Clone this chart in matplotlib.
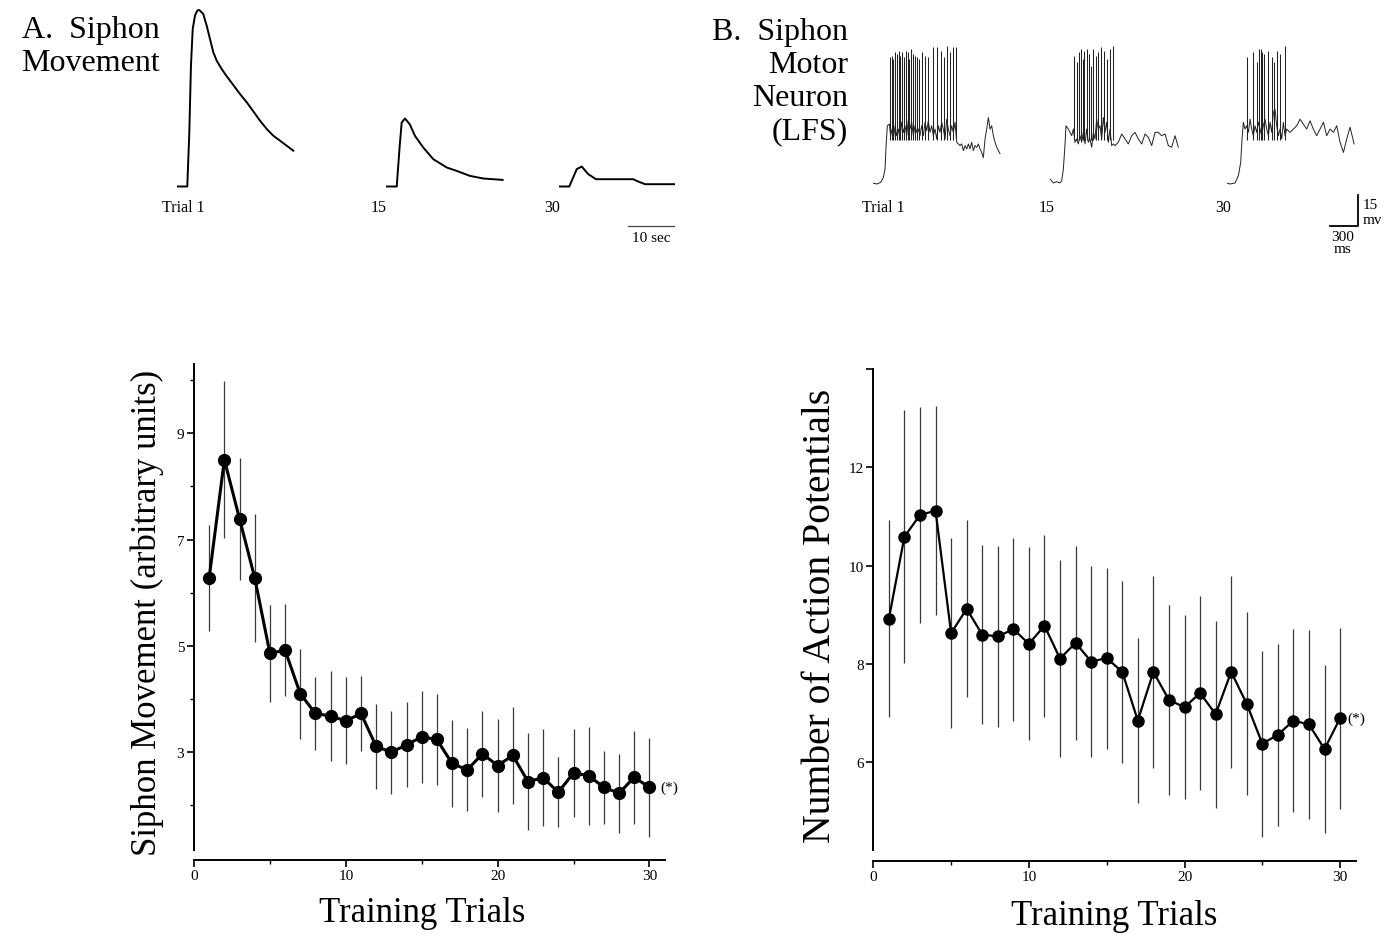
import numpy as np
import matplotlib.pyplot as plt

plt.rcParams['font.family'] = ['Liberation Serif', 'DejaVu Serif']

W, H = 1392, 937

# Habituation over 30 training trials (mean +/- SEM)
trials = np.arange(1, 31)
siphon_mean = [6.28, 8.50, 7.39, 6.28, 4.86, 4.92, 4.10, 3.73, 3.68, 3.59,
               3.73, 3.11, 3.00, 3.14, 3.29, 3.24, 2.79, 2.67, 2.97, 2.75,
               2.94, 2.45, 2.52, 2.25, 2.61, 2.56, 2.34, 2.23, 2.53, 2.34]
siphon_sem = [1.00, 1.48, 1.15, 1.20, 0.91, 0.86, 0.85, 0.69, 0.84, 0.82,
              0.70, 0.80, 0.78, 0.80, 0.86, 0.86, 0.82, 0.78, 0.81, 0.88,
              0.91, 0.92, 0.91, 0.66, 0.83, 0.92, 0.69, 0.74, 0.87, 0.93]
ap_mean = [8.92, 10.59, 11.03, 11.12, 8.63, 9.12, 8.60, 8.56, 8.71, 8.41,
           8.78, 8.11, 8.43, 8.05, 8.12, 7.84, 6.85, 7.84, 7.27, 7.12,
           7.41, 6.98, 7.84, 7.19, 6.38, 6.56, 6.85, 6.77, 6.27, 6.90]
ap_sem = [2.00, 2.57, 2.20, 2.12, 1.93, 1.80, 1.83, 1.84, 1.86, 1.96,
          1.85, 2.00, 1.98, 1.95, 1.84, 1.85, 1.67, 1.95, 1.94, 1.87,
          1.98, 1.90, 1.95, 1.86, 1.89, 1.85, 1.86, 1.92, 1.70, 1.84]

# Example siphon movement records (time in s, amplitude in arbitrary units)
sm1_t = [0, 2.3, 2.74, 3.1, 3.48, 3.98, 4.48, 4.91, 5.78, 6.52, 7.24, 7.96, 8.70, 9.78, 10.87,
         12.30, 13.76, 15.22, 16.65, 18.11, 19.57, 21.0, 22.46, 23.91, 25.35]
sm1_a = [0, 0, 5.4, 12.1, 15.75, 17.1, 17.6, 17.65, 17.25, 16.08, 14.75, 13.42, 12.58, 11.75, 11.02,
         10.15, 9.25, 8.42, 7.52, 6.58, 5.75, 5.08, 4.58, 4.08, 3.58]
sm15_t = [0, 2.33, 3.0, 3.41, 4.13, 5.2, 6.3, 8.1, 10.28, 13.2, 15.37, 18.26, 21.15, 25.35]
sm15_a = [0, 0, 4.2, 6.4, 6.8, 6.2, 5.06, 3.9, 2.73, 1.9, 1.56, 1.06, 0.8, 0.66]
sm30_t = [0, 2.24, 3.85, 4.93, 6.37, 8.04, 16.15, 16.9, 18.7, 25.0]
sm30_a = [0, 0, 1.73, 2.0, 1.23, 0.73, 0.73, 0.56, 0.23, 0.23]

# Motor neuron membrane potential (ms, mV above rest) and spikes
mn1_t = [0, 43, 86, 114, 132, 143, 157, 178, 192, 207, 221, 239, 257, 274, 292, 310, 328, 346, 364, 382,
         399, 417, 435, 453, 471, 489, 506, 524, 542, 560, 578, 595, 613, 631, 649, 667, 685, 702, 720, 738,
         756, 774, 792, 809, 827, 845, 863, 881, 899, 917, 934, 952, 970, 988, 1006, 1024, 1041, 1059, 1077, 1095,
         1113, 1131, 1148, 1166, 1184, 1202, 1220, 1238, 1255, 1273, 1291, 1309, 1327, 1362]
mn1_v = [0, -0.5, 0.3, 2.7, 6.8, 18.1, 27.7, 28.5, 22.9, 26.1, 21.3, 27.7, 22.9, 26.1, 21.3, 29.4, 24.5, 27.7, 22.9, 30.9,
         26.1, 29.4, 22.9, 27.7, 24.5, 26.1, 22.9, 27.7, 22.9, 29.4, 25.3, 30.1, 24.5, 27.7, 22.9, 26.1, 21.3, 27.7, 24.5, 29.4,
         26.1, 21.3, 30.9, 26.1, 22.9, 27.7, 24.5, 29.4, 19.7, 18.9, 18.1, 18.9, 15.7, 18.1, 16.5, 18.9, 16.5, 19.7, 15.7, 18.1,
         17.3, 18.9, 16.5, 14.8, 12.3, 21.3, 26.1, 31.7, 26.1, 27.7, 22.9, 19.7, 17.3, 14.2]
sp1_t = [185, 203, 221, 239, 257, 278, 296, 313, 335, 356, 374, 392, 410, 428, 449, 471, 499, 528, 563, 595,
         649, 692, 727, 763, 792, 827, 863, 891]
sp1_v = [60.8, 61.6, 60.0, 63.2, 62.4, 64.1, 61.6, 63.2, 60.8, 64.1, 63.2, 60.0, 64.9, 62.4, 61.6, 60.8, 60.0, 63.2, 61.6, 60.8,
         65.7, 65.7, 64.1, 60.8, 66.5, 63.2, 65.7, 65.7]

mn15_t = [0, 36, 71, 107, 125, 143, 160, 171, 196, 214, 232, 250, 268, 285, 303, 321, 339, 357, 375, 392,
          410, 428, 446, 464, 482, 499, 517, 535, 553, 571, 589, 606, 624, 642, 660, 678, 696, 731, 767, 803,
          838, 874, 910, 945, 981, 1017, 1052, 1088, 1124, 1159, 1195, 1231, 1266, 1302, 1338, 1373]
mn15_v = [1.9, 0, 0.6, 0, 1.1, 6.8, 18.1, 27.7, 26.1, 24.5, 22.9, 26.1, 19.7, 21.3, 18.9, 22.9, 19.7, 24.5, 18.9, 26.1,
          19.7, 21.3, 17.3, 24.5, 21.3, 30.9, 26.1, 27.7, 21.3, 31.7, 24.5, 29.4, 19.7, 26.1, 18.1, 18.9, 18.1, 19.7, 23.7, 21.3,
          18.9, 22.9, 24.5, 21.3, 18.9, 23.7, 22.1, 18.1, 24.5, 24.5, 22.9, 23.7, 18.1, 17.3, 22.9, 17.3]
sp15_t = [260, 285, 310, 332, 350, 367, 392, 414, 439, 464, 489, 517, 546, 578, 606, 642, 678]
sp15_v = [61.6, 58.4, 63.2, 64.9, 60.0, 64.1, 64.9, 62.4, 56.8, 64.9, 61.6, 63.2, 65.7, 64.1, 60.0, 64.9, 66.5]

mn30_t = [0, 36, 89, 125, 150, 164, 178, 196, 214, 232, 250, 267, 285, 303, 321, 339, 357, 374, 392, 410,
          428, 446, 464, 482, 499, 517, 535, 553, 571, 589, 606, 624, 642, 678, 713, 749, 785, 820, 856, 892,
          927, 963, 999, 1035, 1070, 1106, 1142, 1177, 1213, 1249, 1284, 1320, 1363]
mn30_v = [0, -0.5, 0, 3.5, 10.0, 21.3, 29.4, 26.1, 27.7, 24.5, 30.9, 26.1, 22.9, 27.7, 24.5, 29.4, 26.1, 22.9, 27.7, 30.9,
          26.1, 22.9, 29.4, 24.5, 34.1, 35.7, 27.7, 22.9, 26.1, 21.3, 29.4, 22.9, 26.1, 24.5, 26.1, 27.7, 30.9, 28.5, 26.1, 30.1,
          26.1, 22.9, 26.1, 29.4, 22.9, 26.1, 24.5, 27.7, 19.7, 14.8, 21.3, 27.0, 18.9]
sp30_t = [221, 278, 321, 350, 364, 382, 403, 446, 482, 510, 535, 571, 624]
sp30_v = [60.8, 63.2, 58.4, 64.9, 64.9, 63.2, 62.4, 64.1, 60.8, 58.4, 64.1, 62.4, 66.5]

trace_labels = ['Trial 1', '15', '30']


def px_axes(fig, x0, y0, x1, y1):
    """add axes from a pixel box (top-left origin)"""
    return fig.add_axes([x0 / W, 1 - y1 / H, (x1 - x0) / W, (y1 - y0) / H])


def style_axes(ax, ylo):
    for s in ['top', 'right']:
        ax.spines[s].set_visible(False)
    ax.spines['left'].set_linewidth(1.4)
    ax.spines['bottom'].set_linewidth(1.4)
    ax.spines['left'].set_bounds(ylo, ax.get_ylim()[1])
    ax.set_xticks([0, 10, 20, 30])
    ax.set_xticks([5, 15, 25], minor=True)
    ax.tick_params(which='major', length=5, width=1.2, labelsize=11, pad=2)
    ax.tick_params(which='minor', length=3, width=1.0)


def draw_means(ax, mean, sem, lw, ms):
    ax.errorbar(trials, mean, yerr=sem, fmt='none', ecolor='#3a3a3a', elinewidth=0.9, zorder=1)
    ax.plot(trials, mean, '-o', color='k', lw=lw, ms=ms, zorder=3)


fig = plt.figure(figsize=(W / 100, H / 100), dpi=100)

# ---- A. Siphon movement ----------------------------------------------------
for txt, yb in [('A.  Siphon', 38), ('Movement', 71)]:
    fig.text(160 / W, 1 - yb / H, txt, ha='right', va='baseline', fontsize=23)

sm_traces = [(sm1_t, sm1_a), (sm15_t, sm15_a), (sm30_t, sm30_a)]
sm_axes = []
for x0, (t, a), lab in zip([176.7, 386, 559], sm_traces, trace_labels):
    ax = px_axes(fig, x0, 2.5, x0 + 26 * 4.6, 197.5)
    ax.set_xlim(0, 26)
    ax.set_ylim(-1, 18.5)
    ax.plot(t, a, color='k', lw=1.4, solid_joinstyle='round')
    ax.axis('off')
    fig.text((x0 - 15) / W, 1 - 208 / H, lab, ha='left', va='center', fontsize=11.5)
    sm_axes.append(ax)

# 10 s scale bar
ax = sm_axes[2]
ax.plot([15, 25], [-3.92, -3.92], color='#444', lw=0.9, clip_on=False)
ax.text(20, -5.1, '10 sec', ha='center', va='center', fontsize=11)

# ---- B. Siphon motor neuron --------------------------------------------------
for txt, yb in [('B.  Siphon', 40), ('Motor', 73), ('Neuron', 106), ('(LFS)', 139)]:
    fig.text(848 / W, 1 - yb / H, txt, ha='right', va='baseline', fontsize=23)

mn_traces = [(mn1_t, mn1_v, sp1_t, sp1_v),
             (mn15_t, mn15_v, sp15_t, sp15_v),
             (mn30_t, mn30_v, sp30_t, sp30_v)]
mn_axes = []
for x0, (t, v, st, sv), lab in zip([872.7, 1050, 1226.7], mn_traces, trace_labels):
    ax = px_axes(fig, x0, 39.4, x0 + 1420 / 10.7, 194.3)
    ax.set_xlim(0, 1420)
    ax.set_ylim(-5, 70)
    ax.plot(t, v, color='#222', lw=0.7)
    ax.vlines(st, 21, sv, color='#222', lw=0.75)
    ax.axis('off')
    fig.text((x0 - 11) / W, 1 - 208 / H, lab, ha='left', va='center', fontsize=11.5)
    mn_axes.append(ax)

# 300 ms / 15 mV scale bar
ax = mn_axes[2]
ax.plot([1108, 1408, 1408], [-20.7, -20.7, -5.7], color='k', lw=1.3, clip_on=False)
ax.text(1450, -10.2, '15', ha='left', va='center', fontsize=11)
ax.text(1450, -17.9, 'mv', ha='left', va='center', fontsize=11)
ax.text(1244, -26.0, '300', ha='center', va='center', fontsize=11)
ax.text(1244, -31.5, 'ms', ha='center', va='center', fontsize=11)

# ---- bottom left: siphon movement over trials -----------------------------
ax1 = px_axes(fig, 194, 365, 194 + 31 * 15.18, 860.7)
ax1.set_xlim(0, 31)
ax1.set_ylim(0.98, 10.3)
draw_means(ax1, siphon_mean, siphon_sem, lw=2.2, ms=8.5)
style_axes(ax1, 1.17)
ax1.set_yticks([3, 5, 7, 9])
ax1.set_yticks([2, 4, 6, 8, 10], minor=True)
ax1.text(30.7, siphon_mean[-1], '(*)', ha='left', va='center', fontsize=11)
ax1.set_xlabel('Training Trials', fontsize=25, va='center')
ax1.xaxis.set_label_coords(0.485, -0.106)
ax1.set_ylabel('Siphon Movement (arbitrary units)', fontsize=25, va='center')
ax1.yaxis.set_label_coords(-0.1, 0.5)

# ---- bottom right: action potentials over trials --------------------------
ax2 = px_axes(fig, 873.3, 370, 873.3 + 31 * 15.56, 861.7)
ax2.set_xlim(0, 31)
ax2.set_ylim(4.0, 14.0)
draw_means(ax2, ap_mean, ap_sem, lw=1.6, ms=8)
style_axes(ax2, 4.22)
ax2.set_yticks([6, 8, 10, 12, 14])
ax2.set_yticklabels(['6', '8', '10', '12', ''])
ax2.text(30.45, ap_mean[-1], '(*)', ha='left', va='center', fontsize=11)
ax2.set_xlabel('Training Trials', fontsize=25, va='center')
ax2.xaxis.set_label_coords(0.5, -0.112)
ax2.set_ylabel('Number of Action Potentials', fontsize=28.5, va='center')
ax2.yaxis.set_label_coords(-0.11, 0.5)

fig.savefig('out.png', dpi=100)
